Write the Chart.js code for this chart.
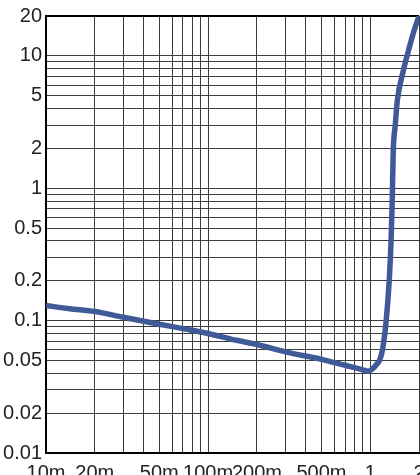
<!DOCTYPE html>
<html>
<head>
<meta charset="utf-8">
<script src="https://cdn.jsdelivr.net/npm/chart.js@4"></script>
<style>
  html, body { margin: 0; padding: 0; background: #fff; }
  #wrap { width: 420px; height: 475px; }
</style>
</head>
<body>
<div id="wrap"><canvas id="curve" width="420" height="475"></canvas></div>
<script>
// curve samples
const xValues = [0.01, 0.014, 0.02, 0.03, 0.05, 0.07, 0.1, 0.15, 0.2, 0.3, 0.5, 0.7, 0.9, 0.97,
                 1.03, 1.1, 1.14, 1.19, 1.255, 1.31, 1.345, 1.367, 1.387, 1.426, 1.47, 1.6, 1.72, 1.85, 2.0];
const yValues = [0.130, 0.123, 0.117, 0.106, 0.094, 0.087, 0.080, 0.071, 0.066, 0.058, 0.051, 0.046, 0.0425, 0.0415,
                 0.043, 0.047, 0.050, 0.060, 0.10, 0.20, 0.40, 0.80, 1.9, 2.95, 4.6, 7.7, 10.9, 15, 20];

const xTickValues = [0.01, 0.02, 0.05, 0.1, 0.2, 0.5, 1, 2];
const xTickLabels = ['10m', '20m', '50m', '100m', '200m', '500m', '1', '2'];
const yTickValues = [0.01, 0.02, 0.05, 0.1, 0.2, 0.5, 1, 2, 5, 10, 20];
const yTickLabels = ['0.01', '0.02', '0.05', '0.1', '0.2', '0.5', '1', '2', '5', '10', '20'];

const labelFont = { family: "'Liberation Sans Narrow', 'Liberation Sans', Arial, sans-serif", size: 20 };
const gridColor = '#3c3c3c';

// every 1..9 multiple inside [min, max]
function logGrid(min, max) {
    const out = [];
    for (let e = -3; e <= 2; e++) {
        for (let m = 1; m <= 9; m++) {
            const v = +(m * Math.pow(10, e)).toPrecision(3);
            if (v >= min - 1e-12 && v <= max + 1e-12) out.push(v);
        }
    }
    return out;
}

function labelFor(values, labels) {
    return function(value) {
        const i = values.findIndex(v => Math.abs(v - value) / v < 1e-6);
        return i >= 0 ? labels[i] : '';
    };
}

const points = xValues.map((x, i) => ({ x: x, y: yValues[i] }));

new Chart(document.getElementById('curve').getContext('2d'), {
    type: 'line',
    data: {
        datasets: [{
            data: points,
            borderColor: '#3f5a96',
            borderWidth: 5.5,
            pointRadius: 0,
            cubicInterpolationMode: 'monotone',
            fill: false
        }]
    },
    options: {
        responsive: false,
        animation: false,
        layout: { padding: { top: 15, right: 1, left: 0, bottom: 0 } },
        plugins: { legend: { display: false }, tooltip: { enabled: false } },
        scales: {
            x: {
                type: 'logarithmic',
                min: 0.01,
                max: 2,
                afterBuildTicks: function(scale) {
                    scale.ticks = logGrid(0.01, 2).map(v => ({ value: v }));
                },
                afterFit: function(scale) {
                    scale.height = 22;
                    scale.paddingLeft = 0;
                    scale.paddingRight = 0;
                },
                ticks: {
                    autoSkip: false,
                    maxRotation: 0,
                    padding: 8,
                    color: '#222',
                    font: labelFont,
                    callback: labelFor(xTickValues, xTickLabels)
                },
                grid: { color: gridColor, lineWidth: 1, drawTicks: false },
                border: { color: '#000', width: 2 }
            },
            y: {
                type: 'logarithmic',
                min: 0.01,
                max: 20,
                afterBuildTicks: function(scale) {
                    scale.ticks = logGrid(0.01, 20).map(v => ({ value: v }));
                },
                afterFit: function(scale) {
                    scale.width = 46;
                },
                ticks: {
                    autoSkip: false,
                    padding: 4,
                    color: '#222',
                    font: labelFont,
                    callback: labelFor(yTickValues, yTickLabels)
                },
                grid: {
                    color: ctx => ctx.tick && ctx.tick.value === 20 ? '#000' : gridColor,
                    lineWidth: ctx => ctx.tick && ctx.tick.value === 20 ? 2 : 1,
                    drawTicks: false
                },
                border: { color: '#000', width: 2 }
            }
        }
    }
});
</script>
</body>
</html>
